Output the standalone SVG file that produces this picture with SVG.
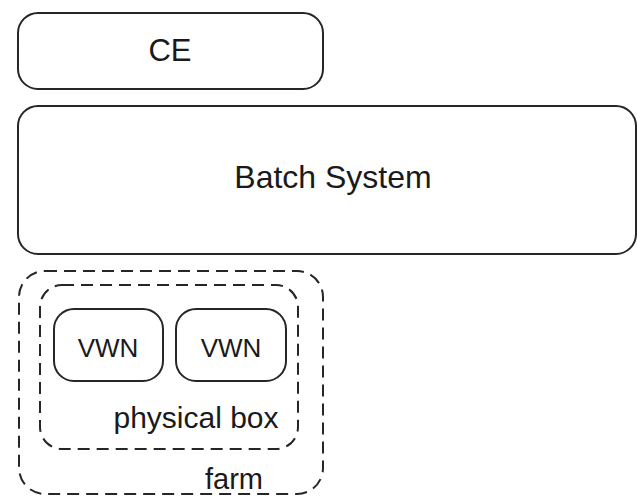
<svg xmlns="http://www.w3.org/2000/svg" width="637" height="498" viewBox="0 0 637 498">
  <style>
    .box { fill: #ffffff; stroke: #262626; stroke-width: 2; }
    .dash { fill: none; stroke: #262626; stroke-width: 2; stroke-dasharray: 12 7; }
    .label { font-family: "Liberation Sans", Arial, sans-serif; fill: #1a1a1a; text-anchor: middle; }
  </style>
  <rect width="637" height="498" fill="#ffffff"/>

  <g id="ce">
    <rect class="box" x="18" y="13" width="305" height="76" rx="20" ry="20"/>
    <text class="label" x="170" y="61" font-size="31">CE</text>
  </g>

  <g id="batch-system">
    <rect class="box" x="18" y="106" width="618" height="148" rx="20" ry="20"/>
    <text class="label" x="333" y="188" font-size="32">Batch System</text>
  </g>

  <g id="farm">
    <rect class="dash" x="19" y="271" width="304" height="223" rx="26" ry="26"/>
    <text class="label" x="234" y="489" font-size="29">farm</text>
  </g>

  <g id="physical-box">
    <rect class="dash" x="40" y="285" width="258" height="164" rx="22" ry="22"/>
    <text class="label" x="196" y="428" font-size="30">physical box</text>
  </g>

  <g id="vwn-1">
    <rect class="box" x="54" y="309" width="109" height="72" rx="20" ry="20"/>
    <text class="label" x="108" y="357" font-size="26">VWN</text>
  </g>

  <g id="vwn-2">
    <rect class="box" x="176" y="309" width="110" height="72" rx="20" ry="20"/>
    <text class="label" x="231" y="357" font-size="26">VWN</text>
  </g>

  <g id="connectors"></g>
</svg>
